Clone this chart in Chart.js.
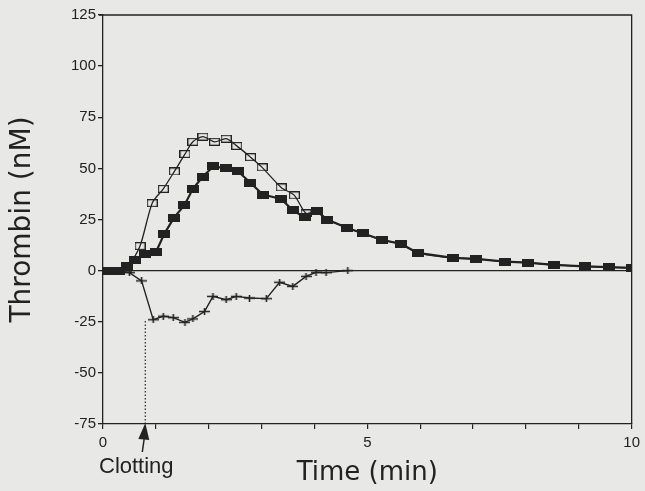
<!DOCTYPE html>
<html>
<head>
<meta charset="utf-8">
<script src="https://cdn.jsdelivr.net/npm/chart.js@4.4.0/dist/chart.umd.min.js"></script>
<style>
  body { margin: 0; background: #e8e8e6; }
  #wrap { width: 645px; height: 491px; }
</style>
</head>
<body>
<div id="wrap"><canvas id="thrombin-chart" width="645" height="491"></canvas></div>
<script>
/* Data (time in min, thrombin in nM) */
let openTimes = [0, 0.15, 0.3, 0.45, 0.7, 0.93, 1.14, 1.35, 1.55, 1.7, 1.89, 2.11, 2.33, 2.53, 2.79, 3.01, 3.37, 3.62, 3.84, 4.05, 4.24, 4.61, 4.91, 5.28, 5.64, 5.95, 6.62, 7.05, 7.61, 8.03, 8.53, 9.11, 9.57, 10]
let openValues = [0, 0, 0, 1, 12, 33, 40, 48.5, 57, 63, 65.5, 63, 64.5, 61, 55.5, 50.5, 40.7, 36.8, 28, 29, 25, 21, 18.3, 15, 13, 8.7, 6.2, 5.7, 4.4, 3.9, 2.8, 2.1, 1.7, 1.3]

let filledTimes = [0, 0.15, 0.3, 0.45, 0.6, 0.79, 1.0, 1.16, 1.34, 1.54, 1.7, 1.89, 2.09, 2.33, 2.55, 2.79, 3.02, 3.37, 3.59, 3.82, 4.05, 4.24, 4.61, 4.91, 5.28, 5.64, 5.95, 6.62, 7.05, 7.61, 8.03, 8.53, 9.11, 9.57, 10]
let filledValues = [0, 0, 0, 2.5, 5, 8, 9, 18, 25.8, 32, 40, 46, 51, 50, 48.6, 43, 37.2, 35, 29.5, 26, 29, 25, 21, 18.3, 15, 13, 8.7, 6.2, 5.7, 4.4, 3.9, 2.8, 2.1, 1.7, 1.3]

let diffTimes = [0, 0.15, 0.3, 0.5, 0.73, 0.95, 1.14, 1.33, 1.55, 1.7, 1.92, 2.08, 2.33, 2.52, 2.77, 3.09, 3.34, 3.59, 3.84, 4.03, 4.22, 4.63]
let diffValues = [0, 0, 0, -1, -5, -24, -22.3, -23, -25.3, -23.6, -20, -12.6, -14.2, -12.6, -13.4, -13.7, -5.7, -7.7, -2.8, -0.8, -1, 0]

let yTicks = [-75, -50, -25, 0, 25, 50, 75, 100, 125]
let xLabelTicks = [0, 5, 10]

// clotting marker: time of clotting and where the dotted line stops
let clotTime = 0.8
let clotLevel = -24

let ink = '#222222'

function toPoints(xs, ys) {
    return xs.map((x, i) => ({ x: x, y: ys[i] }))
}

// small canvases used as point markers (the squares are a bit wider than tall)
function makeMarker(w, h, draw) {
    let c = document.createElement('canvas')
    c.width = w
    c.height = h
    draw(c.getContext('2d'), w, h)
    return c
}
let openSquare = makeMarker(11, 8, function (g, w, h) {
    g.strokeStyle = ink
    g.lineWidth = 1.2
    g.strokeRect(0.6, 0.6, w - 1.2, h - 1.2)
})
let filledSquare = makeMarker(12, 8, function (g, w, h) {
    g.fillStyle = ink
    g.fillRect(0, 0, w, h)
})
let crossMark = makeMarker(11, 7, function (g, w, h) {
    g.strokeStyle = ink
    g.lineWidth = 1.6
    g.beginPath()
    g.moveTo(0, h / 2); g.lineTo(w, h / 2)
    g.moveTo(w / 2, 0); g.lineTo(w / 2, h)
    g.stroke()
})

// frame, dotted clotting line, arrow and label
let extras = {
    id: 'extras',
    afterDraw(chart) {
        let ctx = chart.ctx
        let area = chart.chartArea
        let xs = chart.scales.x
        let ys = chart.scales.y
        ctx.save()
        ctx.strokeStyle = ink
        ctx.lineWidth = 1.3
        ctx.beginPath()
        ctx.moveTo(area.left - 4, area.top)
        ctx.lineTo(area.right, area.top)
        ctx.lineTo(area.right, area.bottom)
        ctx.stroke()

        let cx = xs.getPixelForValue(clotTime)
        ctx.setLineDash([1.5, 2])
        ctx.lineWidth = 1.2
        ctx.beginPath()
        ctx.moveTo(cx, ys.getPixelForValue(ys.min))
        ctx.lineTo(cx, ys.getPixelForValue(clotLevel))
        ctx.stroke()
        ctx.setLineDash([])

        let b = area.bottom
        ctx.fillStyle = ink
        ctx.beginPath()
        ctx.moveTo(cx, b - 1)
        ctx.lineTo(cx + 4, b + 16)
        ctx.lineTo(cx - 7, b + 15)
        ctx.closePath()
        ctx.fill()
        ctx.lineWidth = 1.5
        ctx.beginPath()
        ctx.moveTo(cx - 1, b + 14)
        ctx.lineTo(cx - 3, b + 28)
        ctx.stroke()

        ctx.font = '22px "Liberation Sans", Arial, sans-serif'
        ctx.textAlign = 'center'
        ctx.textBaseline = 'middle'
        ctx.fillText('Clotting', cx - 9, 467)
        ctx.restore()
    }
}

Chart.defaults.font.family = '"Liberation Sans", Arial, sans-serif'
Chart.defaults.color = ink

let ctx = document.querySelector('#thrombin-chart').getContext('2d')

let thrombinChart = new Chart(ctx, {
    type: 'scatter',
    data: {
        datasets: [
            {
                label: 'open',
                data: toPoints(openTimes, openValues),
                showLine: true,
                borderColor: ink,
                borderWidth: 1.3,
                tension: 0.25,
                pointStyle: openSquare,
                order: 2
            },
            {
                label: 'filled',
                data: toPoints(filledTimes, filledValues),
                showLine: true,
                borderColor: ink,
                borderWidth: 2.2,
                tension: 0,
                pointStyle: filledSquare,
                order: 0
            },
            {
                label: 'difference',
                data: toPoints(diffTimes, diffValues),
                showLine: true,
                borderColor: ink,
                borderWidth: 1.4,
                tension: 0,
                pointStyle: crossMark,
                order: 1
            }
        ]
    },
    options: {
        responsive: false,
        animation: false,
        devicePixelRatio: 1,
        layout: { padding: { top: 15, right: 12, left: 0, bottom: 0 } },
        plugins: {
            legend: { display: false },
            tooltip: { enabled: false }
        },
        scales: {
            x: {
                type: 'linear',
                min: 0,
                max: 10,
                border: { color: ink, width: 1.3 },
                grid: { drawOnChartArea: false, tickLength: 5, tickColor: ink, lineWidth: 1.2 },
                ticks: {
                    stepSize: 1,
                    maxRotation: 0,
                    padding: 5,
                    font: { size: 15 },
                    callback: v => xLabelTicks.includes(v) ? String(v) : ''
                },
                title: {
                    display: true,
                    text: 'Time (min)',
                    font: { family: '"DejaVu Sans", sans-serif', size: 26 },
                    padding: { top: 0, bottom: 2 }
                },
                afterFit: function (scale) { scale.height = 67 }
            },
            y: {
                min: -75,
                max: 125,
                border: { color: ink, width: 1.3 },
                grid: {
                    color: c => (c.tick && c.tick.value === 0) ? ink : 'rgba(0,0,0,0)',
                    lineWidth: 1.3,
                    tickLength: 5,
                    tickColor: ink
                },
                afterBuildTicks: function (scale) {
                    scale.ticks = yTicks.map(v => ({ value: v }))
                },
                ticks: {
                    padding: 2,
                    font: { size: 15 }
                },
                title: {
                    display: true,
                    text: 'Thrombin (nM)',
                    font: { family: '"DejaVu Sans", sans-serif', size: 28 },
                    padding: { top: 6, bottom: 0 }
                },
                afterFit: function (scale) { scale.width = 103 }
            }
        }
    },
    plugins: [extras]
})
</script>
</body>
</html>
